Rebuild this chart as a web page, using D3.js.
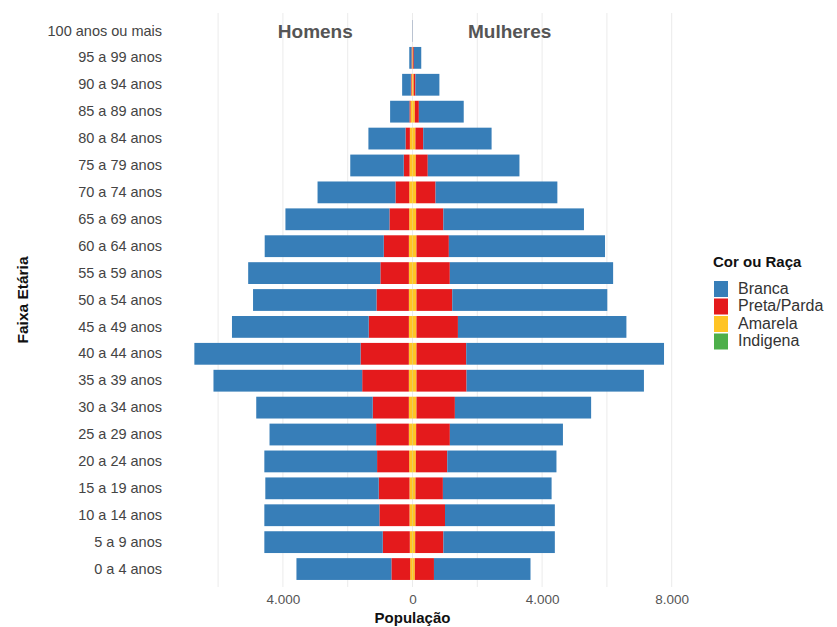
<!DOCTYPE html>
<html>
<head>
<meta charset="utf-8">
<script src="https://cdn.jsdelivr.net/npm/d3@7"></script>
<style>
  body { margin: 0; background: #fff; }
  svg { display: block; font-family: "Liberation Sans", Arial, sans-serif; }
</style>
</head>
<body>
<svg id="chart" width="837" height="627"></svg>
<script>
// ---- data (top row first) ----
const ageGroups = ["100 anos ou mais","95 a 99 anos","90 a 94 anos","85 a 89 anos","80 a 84 anos",
  "75 a 79 anos","70 a 74 anos","65 a 69 anos","60 a 64 anos","55 a 59 anos","50 a 54 anos",
  "45 a 49 anos","40 a 44 anos","35 a 39 anos","30 a 34 anos","25 a 29 anos","20 a 24 anos",
  "15 a 19 anos","10 a 14 anos","5 a 9 anos","0 a 4 anos"];
const races = ["Branca","Preta/Parda","Amarela","Indigena"];
const raceColors = ["#377EB8","#E41A1C","#FFC425","#4DAF4A"];

const homensBranca   = [3,70,270,595,1145,1650,2405,3210,3675,4080,3810,4220,5130,4590,3595,3290,3480,3500,3550,3655,2930];
const homensPreta    = [1,22,20,35,135,180,425,610,775,880,1000,1240,1490,1440,1115,1010,990,950,930,835,580];
const homensAmarela  = [0,8,30,60,80,90,100,100,110,110,110,110,110,110,110,110,100,90,90,80,70];
const homensIndigena = [0,0,0,1,1,1,1,2,2,2,2,2,3,3,3,3,3,3,3,3,2];

const mulheresBranca   = [6,230,740,1385,2110,2830,3760,4340,4820,5040,4785,5200,6105,5475,4205,3490,3370,3355,3390,3440,2980];
const mulheresPreta    = [1,28,55,125,240,370,600,840,1000,1030,1105,1280,1535,1545,1185,1040,970,845,910,870,590];
const mulheresAmarela  = [0,12,35,70,90,100,110,110,120,120,120,120,120,120,120,110,100,90,90,80,70];
const mulheresIndigena = [0,0,0,1,1,1,1,2,2,2,2,2,3,3,3,3,3,3,3,3,2];

const xTicks = [-4000, 0, 4000, 8000];
const xGrid = [-6000,-4000,-2000,0,2000,4000,6000,8000];
const sideLabels = [{text:"Homens", x:-3000}, {text:"Mulheres", x:3000}];

// ---- build table ----
function rows(b,p,a,i,sign){
  return ageGroups.map((g,k)=>({age:g, Branca:sign*b[k], "Preta/Parda":sign*p[k], Amarela:sign*a[k], Indigena:sign*i[k]}));
}
const menRows = rows(homensBranca,homensPreta,homensAmarela,homensIndigena,-1);
const womenRows = rows(mulheresBranca,mulheresPreta,mulheresAmarela,mulheresIndigena,1);

const stackOrder = ["Indigena","Amarela","Preta/Parda","Branca"]; // from zero outward
const stack = d3.stack().keys(stackOrder).offset(d3.stackOffsetDiverging);
const menStack = stack(menRows);
const womenStack = stack(womenRows);

// ---- scales ----
const svg = d3.select("#chart");
const x = d3.scaleLinear().domain([-7670, 8750]).range([164, 696]);
const y = d3.scaleBand().domain(ageGroups).range([17.5, 582.5]).paddingInner(0.19).paddingOuter(0.095);
const color = d3.scaleOrdinal().domain(races).range(raceColors);
const fmt = v => d3.format(",")(Math.abs(v)).replace(/,/g, ".");

// gridlines
svg.append("g").selectAll("line").data(xGrid).join("line")
  .attr("x1", d=>x(d)).attr("x2", d=>x(d))
  .attr("y1", 13).attr("y2", 587)
  .attr("stroke", "#ebebeb").attr("stroke-width", 1);

// bars
const gBars = svg.append("g");
[menStack, womenStack].forEach(st => {
  gBars.append("g").selectAll("g").data(st).join("g")
    .attr("fill", d => color(d.key))
    .selectAll("rect").data(d => d.filter(s => s[0] !== s[1])).join("rect")
    .attr("x", d => x(Math.min(d[0], d[1])))
    .attr("width", d => Math.abs(x(d[1]) - x(d[0])))
    .attr("y", d => y(d.data.age))
    .attr("height", y.bandwidth());
});

// side labels
svg.append("g").selectAll("text").data(sideLabels).join("text")
  .attr("x", d => x(d.x)).attr("y", y(ageGroups[0]) + y.bandwidth()/2)
  .attr("dy", "0.36em").attr("text-anchor", "middle")
  .attr("font-size", 19).attr("font-weight", "bold").attr("fill", "#555")
  .text(d => d.text);

// x axis
const xAxis = d3.axisBottom(x).tickValues(xTicks).tickFormat(fmt).tickSize(0).tickPadding(0);
const gx = svg.append("g").attr("transform", "translate(0,594)").call(xAxis);
gx.select(".domain").remove();
gx.selectAll("text").attr("font-size", 13.5).attr("fill", "#555")
  .attr("font-family", "Liberation Sans, Arial, sans-serif").attr("dy", "0.71em");

// y axis
const yAxis = d3.axisLeft(y).tickSize(0).tickPadding(0);
const gy = svg.append("g").attr("transform", "translate(162,0)").call(yAxis);
gy.select(".domain").remove();
gy.selectAll("text").attr("font-size", 14.5).attr("fill", "#444")
  .attr("font-family", "Liberation Sans, Arial, sans-serif");

// axis titles
svg.append("text").attr("x", x(0)).attr("y", 623).attr("text-anchor", "middle")
  .attr("font-size", 15).attr("font-weight", "bold").attr("fill", "#111").text("População");
svg.append("text").attr("transform", "translate(28,300) rotate(-90)").attr("text-anchor", "middle")
  .attr("font-size", 15.5).attr("font-weight", "bold").attr("fill", "#111").text("Faixa Etária");

// legend
const lg = svg.append("g").attr("transform", "translate(713,267)");
lg.append("text").attr("x", 0).attr("y", 0).attr("font-size", 15).attr("font-weight", "bold")
  .attr("fill", "#111").text("Cor ou Raça");
const items = lg.selectAll("g.item").data(races).join("g").attr("class", "item")
  .attr("transform", (d,i) => `translate(0,${14 + i*17.5})`);
items.append("rect").attr("x", 1).attr("y", 0).attr("width", 14).attr("height", 16)
  .attr("fill", d => color(d));
items.append("text").attr("x", 25).attr("y", 7).attr("dy", "0.35em")
  .attr("font-size", 16).attr("fill", "#333").text(d => d);
</script>
</body>
</html>
